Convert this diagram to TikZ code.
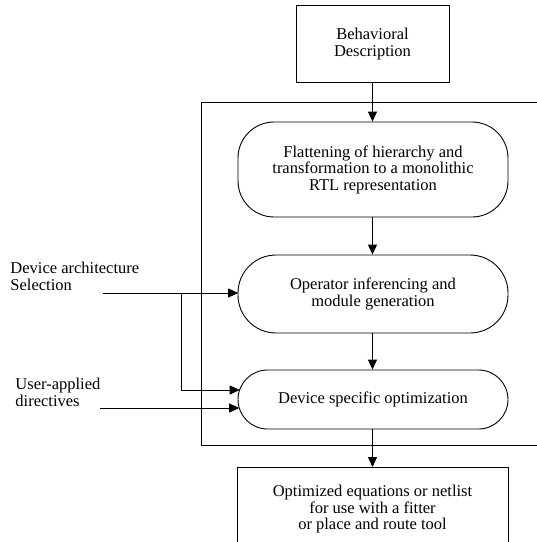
\documentclass[tikz,border=0pt]{standalone}
\usepackage{fontspec}
\setmainfont{Liberation Serif}
\usetikzlibrary{arrows.meta}
\begin{document}
\begin{tikzpicture}[x=1pt,y=-1pt,
  font=\fontsize{16.5}{16.5}\selectfont,
  line width=0.9pt,
  sqbox/.style={draw, align=center, inner sep=0pt},
  rbox/.style={draw, align=center, inner sep=0pt, minimum width=270pt},
  lbl/.style={align=left, anchor=north west, inner sep=0pt},
  arr/.style={-{Triangle[length=10pt,width=9pt]}}]
\useasboundingbox (0,0) rectangle (537,542);
% nodes
\node[sqbox, minimum width=153pt, minimum height=77pt] (beh) at (372.5,44) {Behavioral\\Description};
\node[rbox, rounded corners=36pt, minimum height=95pt] (flat) at (373,169.5) {Flattening of hierarchy and\\transformation to a monolithic\\RTL representation};
\node[rbox, rounded corners=38pt, minimum height=78pt] (oper) at (373,294) {Operator inferencing and\\module generation};
\node[rbox, rounded corners=29.5pt, minimum height=59pt] (dev) at (373,399.5) {Device specific optimization};
\node[draw, minimum width=271pt, minimum height=82pt, anchor=north] (out) at (372.5,467) {};
\node[align=center, inner sep=0pt, anchor=north, yshift=-18pt] (outtext) at (out.north) {Optimized equations or netlist\\for use with a fitter\\or place and route tool};
\node[lbl] (arch) at (10,262) {Device architecture\\Selection};
\node[lbl] (user) at (15,378) {User-applied\\directives};
% frame
\draw (537,102) -- (201,102) -- (201,445) -- (537,445);
% coordinates
\coordinate (a0) at (103,293);
\coordinate (a1) at (238.2,293);
\coordinate (br) at (181,293);
\coordinate (b1) at (239.7,390);
\coordinate (u0) at (100,408);
\coordinate (u1) at (239.2,408);
% connectors
\draw[arr] (beh.south) -- (beh.south |- flat.north);
\draw[arr] (beh.south |- flat.south) -- (beh.south |- oper.north);
\draw[arr] (beh.south |- oper.south) -- (beh.south |- dev.north);
\draw[arr] (beh.south |- dev.south) -- (beh.south |- out.north);
\draw[arr] (a0) -- (a1);
\draw[arr] (br) |- (b1);
\draw[arr] (u0) -- (u1);
\end{tikzpicture}
\end{document}
